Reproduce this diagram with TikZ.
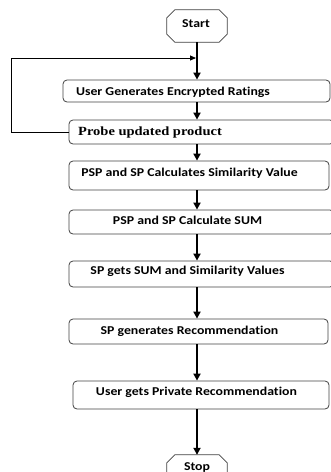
\documentclass[tikz,border=0pt]{standalone}
\usepackage{fontspec}
\usepackage{graphicx}
\setmainfont{Carlito}[Ligatures=NoCommon]
\newfontfamily\probefont{Liberation Serif}
\usetikzlibrary{arrows.meta}

% wide-set lettering used in all boxes
\newcommand{\widetext}[2][1.15]{\scalebox{#1}[1]{#2}}

\tikzset{
  stepbox/.style={draw=black!75, line width=0.8pt, rounded corners=4pt,
    inner sep=0pt},
  termbox/.style={inner sep=0pt, minimum width=60pt, minimum height=32pt},
  octline/.style={draw=black!75, line width=0.8pt},
  steptext/.style={anchor=base, inner sep=0pt, font=\fontsize{12}{14}\selectfont\bfseries},
  probetext/.style={anchor=base, inner sep=0pt, font=\fontsize{12.5}{14}\probefont\bfseries},
  flow/.style={line width=1.8pt, -{Triangle[length=7pt,width=7pt]}},
  loopback/.style={line width=0.8pt, -{Triangle[length=6pt,width=5pt]}},
}

\begin{document}
\begin{tikzpicture}[x=1pt, y=-1pt]
  \useasboundingbox (0,0) rectangle (331,472);
  \clip (0,0) rectangle (331,472);

  % terminals
  \node[termbox] (start) at (197,26) {};
  \node[termbox] (stop) at (197,471) {};
  \foreach \t in {start,stop}{
    \draw[octline] ([xshift=8pt]\t.north west) -- ([xshift=-8pt]\t.north east)
      -- ([yshift=-8pt]\t.north east) -- ([yshift=8pt]\t.south east)
      -- ([xshift=-8pt]\t.south east) -- ([xshift=8pt]\t.south west)
      -- ([yshift=8pt]\t.south west) -- ([yshift=-8pt]\t.north west) -- cycle;
  }
  \node[steptext] (tstart) at (196,27.5) {\widetext{Start}};
  \node[steptext] (tstop) at (197,470) {\widetext{Stop}};

  % process steps
  \node[stepbox, minimum width=267pt, minimum height=22pt] (b1) at (196.5,91) {};
  \node[stepbox, minimum width=265pt, minimum height=24pt] (b2) at (201.5,132) {};
  \node[stepbox, minimum width=260pt, minimum height=29pt] (b3) at (199,175.5) {};
  \node[stepbox, minimum width=265pt, minimum height=24pt] (b4) at (201.5,222) {};
  \node[stepbox, minimum width=265pt, minimum height=26pt] (b5) at (201.5,274) {};
  \node[stepbox, minimum width=259pt, minimum height=25pt] (b6) at (198.5,331.5) {};
  \node[stepbox, minimum width=256pt, minimum height=28pt] (b7) at (201,395) {};

  \node[steptext] (t1) at (173,95) {\widetext{User Generates Encrypted Ratings}};
  \node[probetext] (t2) at (150,135) {\widetext[1.16]{Probe updated product}};
  \node[steptext] (t3) at (189.5,176) {\widetext{PSP and SP Calculates Similarity Value}};
  \node[steptext] (t4) at (187.5,224.5) {\widetext{PSP and SP Calculate SUM}};
  \node[steptext] (t5) at (187.5,274) {\widetext{SP gets SUM and Similarity Values}};
  \node[steptext] (t6) at (189.5,334) {\widetext{SP generates Recommendation}};
  \node[steptext] (t7) at (196.5,395) {\widetext{User gets Private Recommendation}};

  % main flow
  \coordinate (join) at (197,58);
  \draw[flow] (start.south) -- (start.south |- b1.north);
  \draw[flow] (start.south |- b1.south) -- (start.south |- b2.north);
  \draw[flow] (start.south |- b2.south) -- (start.south |- b3.north);
  \draw[flow] (start.south |- b3.south) -- (start.south |- b4.north);
  \draw[flow] (start.south |- b4.south) -- (start.south |- b5.north);
  \draw[flow] (start.south |- b5.south) -- (start.south |- b6.north);
  \draw[flow] (start.south |- b6.south) -- (start.south |- b7.north);
  \draw[flow] (start.south |- b7.south) -- (stop.north);

  % feedback from probing back to rating
  \coordinate (loopcorner) at (11,58);
  \draw[loopback] (b2.west) -| (loopcorner) -- ([xshift=-1pt]join);
\end{tikzpicture}
\end{document}
